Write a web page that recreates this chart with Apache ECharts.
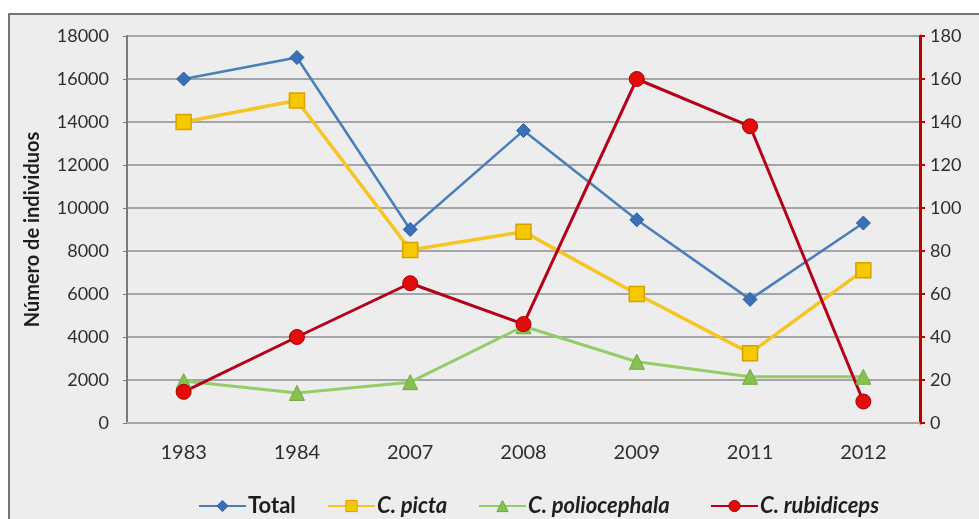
<!DOCTYPE html>
<html>
<head>
<meta charset="utf-8">
<script src="https://cdn.jsdelivr.net/npm/echarts@6/dist/echarts.min.js"></script>
<style>
html,body{margin:0;padding:0;background:#ffffff;}
#chart{width:979px;height:519px;}
</style>
</head>
<body>
<div id="chart"></div>
<script>
const years = ['1983', '1984', '2007', '2008', '2009', '2011', '2012'];
const total = [16000, 17000, 9000, 13600, 9450, 5750, 9300];
const picta = [14000, 15000, 8050, 8900, 6000, 3250, 7100];
const poliocephala = [1950, 1400, 1900, 4500, 2850, 2150, 2150];
const rubidiceps = [14.5, 40, 65, 46, 160, 138, 10];
const seriesNames = ['Total', 'C. picta', 'C. poliocephala', 'C. rubidiceps'];
const yAxisName = 'Número de individuos';

const chart = echarts.init(document.getElementById('chart'));
const FONT = 'Lato, "Noto Sans", sans-serif';
const TXT = '#2e2e2e';
const SQUARE = 'path://M0,0L10,0L10,10L0,10Z';

const colors = {
  total: { line: '#4a7ebb', fill: '#3b6fb6', border: '#2f5f9e' },
  picta: { line: '#f6c523', fill: '#f5c800', border: '#d9a000' },
  polio: { line: '#96cc68', fill: '#86c24e', border: '#6faa3c' },
  rubid: { line: '#b5001c', fill: '#e30b0b', border: '#a80000' }
};
const legendColors = [colors.total, colors.picta, colors.polio, colors.rubid];
const legendLeft = [193, 322, 473, 705];
const legendItalic = ['normal', 'italic', 'italic', 'italic'];

const legends = seriesNames.map((n, i) => ({
  left: legendLeft[i],
  top: 490,
  itemWidth: 47,
  itemHeight: 14,
  textStyle: { fontFamily: FONT, fontSize: 22, fontWeight: 'bold', fontStyle: legendItalic[i], color: '#1e1e1e', padding: [0, 0, 0, -3] },
  data: [{ name: n, itemStyle: { color: legendColors[i].fill, borderColor: legendColors[i].border, borderWidth: 1 } }]
}));

chart.setOption({
  backgroundColor: '#ffffff',
  animation: false,
  graphic: [{
    type: 'rect',
    z: -10,
    shape: { x: 9, y: 14, width: 1000, height: 600 },
    style: { fill: '#ededed', stroke: '#4a4a4a', lineWidth: 1.5 }
  }],
  grid: { left: 127, right: 59, top: 36, bottom: 96 },
  legend: legends,
  xAxis: {
    type: 'category',
    data: years,
    boundaryGap: true,
    axisLine: { show: true, lineStyle: { color: '#a8a8a8', width: 2 } },
    axisTick: { show: false },
    axisLabel: { fontFamily: FONT, fontSize: 20, color: TXT, margin: 20 },
    splitLine: { show: false }
  },
  yAxis: [{
    type: 'value',
    min: 0, max: 18000, interval: 2000,
    name: yAxisName,
    nameLocation: 'middle',
    nameGap: 84,
    nameRotate: 90,
    nameTextStyle: { fontFamily: FONT, fontSize: 20, fontWeight: 'bold', color: '#1e1e1e' },
    axisLine: { show: true, lineStyle: { color: '#7a7a7a', width: 2 } },
    axisTick: { show: true, length: 4, lineStyle: { color: '#7a7a7a' } },
    axisLabel: { fontFamily: FONT, fontSize: 18, color: TXT, margin: 18, formatter: v => String(v) },
    splitLine: { show: true, lineStyle: { color: '#8c8c8c', width: 1.5 } }
  }, {
    type: 'value',
    min: 0, max: 180, interval: 20,
    position: 'right',
    axisLine: { show: true, lineStyle: { color: '#c00000', width: 3 } },
    axisTick: { show: true, length: 5, lineStyle: { color: '#c00000', width: 2 } },
    axisLabel: { fontFamily: FONT, fontSize: 18, color: TXT, margin: 10, formatter: v => String(v) },
    splitLine: { show: false }
  }],
  series: [{
    name: seriesNames[0],
    type: 'line',
    data: total,
    symbol: 'diamond',
    symbolSize: 14,
    lineStyle: { color: colors.total.line, width: 2.5 },
    itemStyle: { color: colors.total.fill, borderColor: colors.total.border, borderWidth: 1 }
  }, {
    name: seriesNames[1],
    type: 'line',
    data: picta,
    symbol: SQUARE,
    symbolSize: 15,
    lineStyle: { color: colors.picta.line, width: 3.5 },
    itemStyle: { color: colors.picta.fill, borderColor: colors.picta.border, borderWidth: 1.5 }
  }, {
    name: seriesNames[2],
    type: 'line',
    data: poliocephala,
    symbol: 'triangle',
    symbolSize: 15,
    lineStyle: { color: colors.polio.line, width: 3 },
    itemStyle: { color: colors.polio.fill, borderColor: colors.polio.border, borderWidth: 1 }
  }, {
    name: seriesNames[3],
    type: 'line',
    yAxisIndex: 1,
    data: rubidiceps,
    symbol: 'circle',
    symbolSize: 15,
    lineStyle: { color: colors.rubid.line, width: 3 },
    itemStyle: { color: colors.rubid.fill, borderColor: colors.rubid.border, borderWidth: 1 }
  }]
});
</script>
</body>
</html>
